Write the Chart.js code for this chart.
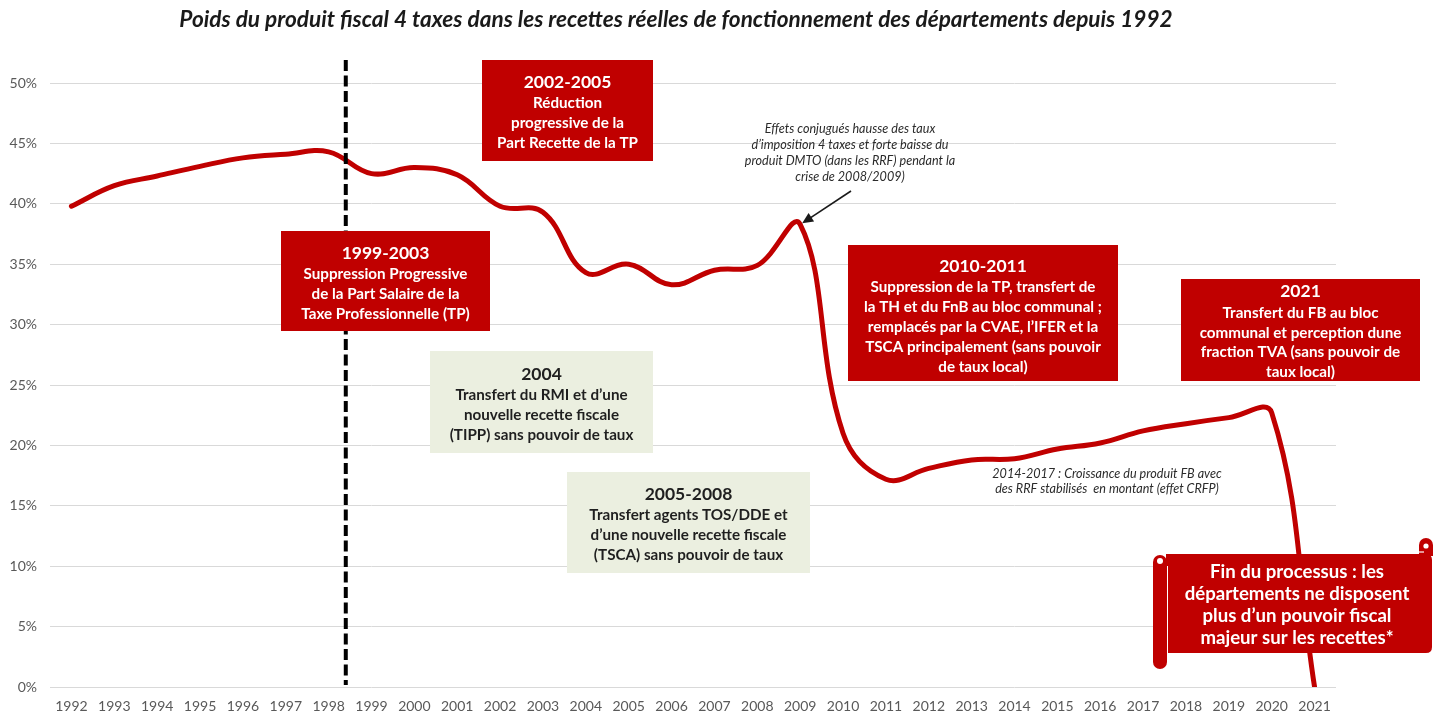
<!DOCTYPE html>
<html lang="fr">
<head>
<meta charset="utf-8">
<title>Poids du produit fiscal 4 taxes</title>
<script src="https://cdn.jsdelivr.net/npm/chart.js@4/dist/chart.umd.min.js"></script>
<style>
  html, body { margin: 0; padding: 0; background: #ffffff; }
  #wrap { position: relative; width: 1440px; height: 715px; }
</style>
</head>
<body>
<div id="wrap"><canvas id="chart" width="1440" height="715"></canvas></div>
<script>
// Années et poids du produit fiscal 4 taxes (% des recettes réelles de fonctionnement)
const years = ['1992','1993','1994','1995','1996','1997','1998','1999','2000','2001',
               '2002','2003','2004','2005','2006','2007','2008','2009','2010','2011',
               '2012','2013','2014','2015','2016','2017','2018','2019','2020','2021'];
const shareFiscal = [39.8, 41.5, 42.3, 43.1, 43.8, 44.1, 44.3, 42.5, 43.0, 42.4,
                     39.8, 39.3, 34.3, 35.0, 33.3, 34.5, 34.9, 38.3, 21.0, 17.2,
                     18.1, 18.8, 18.9, 19.7, 20.2, 21.2, 21.8, 22.3, 22.7, 0.0];
const yTicks = [0, 5, 10, 15, 20, 25, 30, 35, 40, 45, 50];

// Position de la séparation verticale (entre 1998 et 1999, en index de catégorie)
const dividerIndex = 6.4;

const chartTitle = 'Poids du produit fiscal 4 taxes dans les recettes réelles de fonctionnement des départements depuis 1992';

const RED = '#C00000';
const BEIGE = '#EBEFE0';
const FONT = 'Lato, "Open Sans", sans-serif';
const HEAD_SIZE = 17.5;
const BODY_SIZE = 15.2;

// Encadrés de commentaires
const boxes = [
  { x: 482, y: 60, w: 171, h: 101, fill: RED, color: '#ffffff',
    head: '2002-2005', lines: ['Réduction', 'progressive de la', 'Part Recette de la TP'],
    headY: 82, lineY: [103, 123, 143] },
  { x: 281, y: 231, w: 209, h: 100, fill: RED, color: '#ffffff',
    head: '1999-2003', lines: ['Suppression Progressive', 'de la Part Salaire de la', 'Taxe Professionnelle (TP)'],
    headY: 253, lineY: [274, 294, 314] },
  { x: 430, y: 351, w: 223, h: 102, fill: BEIGE, color: '#1f1f1f',
    head: '2004', lines: ['Transfert du RMI et d\u2019une', 'nouvelle recette fiscale', '(TIPP) sans pouvoir de taux'],
    headY: 374, lineY: [395, 415, 435] },
  { x: 567, y: 472, w: 243, h: 101, fill: BEIGE, color: '#1f1f1f',
    head: '2005-2008', lines: ['Transfert agents TOS/DDE et', 'd\u2019une nouvelle recette fiscale', '(TSCA) sans pouvoir de taux'],
    headY: 494, lineY: [515, 535, 555] },
  { x: 848, y: 245, w: 270, h: 136, fill: RED, color: '#ffffff',
    head: '2010-2011', lines: ['Suppression de la TP, transfert de', 'la TH et du FnB au bloc communal ;',
                             'remplacés par la CVAE, l\u2019IFER et la', 'TSCA principalement (sans pouvoir', 'de taux local)'],
    headY: 266, lineY: [287, 307, 327, 347, 367] },
  { x: 1181, y: 279, w: 239, h: 102, fill: RED, color: '#ffffff',
    head: '2021', lines: ['Transfert du FB au bloc', 'communal et perception dune', 'fraction TVA (sans pouvoir de', 'taux local)'],
    headY: 291, lineY: [313, 333, 352, 372] }
];

const notes = [
  { cx: 850, lines: ['Effets conjugués hausse des taux', 'd\u2019imposition 4 taxes et forte baisse du',
                     'produit DMTO (dans les RRF) pendant la', 'crise de 2008/2009)'],
    y: [129, 145, 161, 177] },
  { cx: 1107, lines: ['2014-2017 : Croissance du produit FB avec', 'des RRF stabilisés  en montant (effet CRFP)'],
    y: [474, 489] }
];

const scrollText = ['Fin du processus : les', 'départements ne disposent', 'plus d\u2019un pouvoir fiscal', 'majeur sur les recettes*'];

function drawBox(ctx, b) {
  ctx.save();
  ctx.fillStyle = b.fill;
  ctx.fillRect(b.x, b.y, b.w, b.h);
  const cx = b.x + b.w / 2;
  ctx.fillStyle = b.color;
  ctx.textAlign = 'center';
  ctx.textBaseline = 'middle';
  ctx.font = 'bold ' + HEAD_SIZE + 'px ' + FONT;
  ctx.fillText(b.head, cx, b.headY);
  ctx.font = 'bold ' + BODY_SIZE + 'px ' + FONT;
  b.lines.forEach((t, i) => ctx.fillText(t, cx, b.lineY[i]));
  ctx.restore();
}

function drawScroll(ctx) {
  ctx.save();
  ctx.fillStyle = RED;
  ctx.strokeStyle = '#ffffff';
  ctx.lineWidth = 1.2;
  // corps du parchemin
  ctx.beginPath();
  ctx.moveTo(1166, 554);
  ctx.lineTo(1426, 554);
  ctx.quadraticCurveTo(1432, 554, 1432, 560);
  ctx.lineTo(1432, 647);
  ctx.quadraticCurveTo(1432, 653, 1426, 653);
  ctx.lineTo(1166, 653);
  ctx.closePath();
  ctx.fill();
  // enroulement supérieur droit
  ctx.beginPath();
  ctx.moveTo(1419, 556);
  ctx.lineTo(1419, 545);
  ctx.arc(1426, 545, 7, Math.PI, 0);
  ctx.lineTo(1433, 556);
  ctx.closePath();
  ctx.fill();
  ctx.beginPath();
  ctx.arc(1426, 546, 2.6, 0, Math.PI * 2);
  ctx.fillStyle = '#ffffff';
  ctx.fill();
  ctx.strokeStyle = '#ffffff';
  ctx.beginPath();
  ctx.moveTo(1418, 552);
  ctx.lineTo(1424, 552);
  ctx.stroke();
  // rouleau gauche
  ctx.fillStyle = RED;
  ctx.beginPath();
  ctx.moveTo(1153, 562);
  ctx.arc(1160, 562, 7, Math.PI, 0);
  ctx.lineTo(1167, 662);
  ctx.arc(1160, 662, 7, 0, Math.PI);
  ctx.closePath();
  ctx.fill();
  ctx.beginPath();
  ctx.arc(1160, 561, 3, 0, Math.PI * 2);
  ctx.fillStyle = '#ffffff';
  ctx.fill();
  ctx.strokeStyle = '#ffffff';
  ctx.lineWidth = 1;
  ctx.beginPath();
  ctx.moveTo(1167.5, 566);
  ctx.lineTo(1167.5, 653);
  ctx.stroke();
  // texte
  ctx.fillStyle = '#ffffff';
  ctx.textAlign = 'center';
  ctx.textBaseline = 'middle';
  ctx.font = 'bold 18.6px ' + FONT;
  const ty = [572, 594, 616, 638];
  scrollText.forEach((t, i) => ctx.fillText(t, 1297, ty[i]));
  ctx.restore();
}

const annotationPlugin = {
  id: 'fiscalAnnotations',
  afterDatasetsDraw(chart) {
    const ctx = chart.ctx;
    const xs = chart.scales.x;
    const area = chart.chartArea;

    // séparation verticale en tirets
    const dx = xs.getPixelForValue(dividerIndex);
    ctx.save();
    ctx.strokeStyle = '#000000';
    ctx.lineWidth = 4;
    ctx.setLineDash([11, 4.5]);
    ctx.beginPath();
    ctx.moveTo(dx, 60);
    ctx.lineTo(dx, area.bottom - 2);
    ctx.stroke();
    ctx.restore();

    boxes.forEach(b => drawBox(ctx, b));

    // notes en italique
    ctx.save();
    ctx.fillStyle = '#2b2b2b';
    ctx.textAlign = 'center';
    ctx.textBaseline = 'middle';
    ctx.font = 'italic 12.6px ' + FONT;
    notes.forEach(n => n.lines.forEach((t, i) => ctx.fillText(t, n.cx, n.y[i])));
    ctx.restore();

    // flèche vers le pic de 2009
    const x2 = xs.getPixelForValue(17) + 2;
    const y2 = chart.scales.y.getPixelForValue(shareFiscal[17]) - 1;
    const x1 = 851, y1 = 191;
    const ang = Math.atan2(y2 - y1, x2 - x1);
    ctx.save();
    ctx.strokeStyle = '#1a1a1a';
    ctx.fillStyle = '#1a1a1a';
    ctx.lineWidth = 1.6;
    ctx.beginPath();
    ctx.moveTo(x1, y1);
    ctx.lineTo(x2 - 8 * Math.cos(ang), y2 - 8 * Math.sin(ang));
    ctx.stroke();
    ctx.beginPath();
    ctx.moveTo(x2, y2);
    ctx.lineTo(x2 - 11 * Math.cos(ang) + 5 * Math.sin(ang), y2 - 11 * Math.sin(ang) - 5 * Math.cos(ang));
    ctx.lineTo(x2 - 11 * Math.cos(ang) - 5 * Math.sin(ang), y2 - 11 * Math.sin(ang) + 5 * Math.cos(ang));
    ctx.closePath();
    ctx.fill();
    ctx.restore();

    drawScroll(ctx);
  },
  afterDraw(chart) {
    const ctx = chart.ctx;
    ctx.save();
    ctx.fillStyle = '#1a1a1a';
    ctx.textAlign = 'center';
    ctx.textBaseline = 'middle';
    ctx.font = 'italic bold 22.6px ' + FONT;
    ctx.fillText(chartTitle, 676, 20);
    ctx.restore();
  }
};

new Chart(document.getElementById('chart'), {
  type: 'line',
  data: {
    labels: years,
    datasets: [{
      data: shareFiscal,
      borderColor: RED,
      borderWidth: 5,
      tension: 0.4,
      pointRadius: 0,
      pointHoverRadius: 0,
      fill: false,
      borderCapStyle: 'round',
      borderJoinStyle: 'round'
    }]
  },
  options: {
    responsive: false,
    animation: false,
    events: [],
    layout: { padding: { top: 83, right: 104, bottom: 0, left: 0 } },
    plugins: {
      legend: { display: false },
      title: { display: false },
      tooltip: { enabled: false }
    },
    scales: {
      x: {
        type: 'category',
        offset: true,
        grid: { display: false, drawTicks: false },
        border: { display: false },
        ticks: {
          color: '#595959',
          font: { family: FONT, size: 14 },
          padding: 11,
          maxRotation: 0,
          autoSkip: false
        },
        afterFit(scale) { scale.height = 28; }
      },
      y: {
        min: 0,
        max: 50,
        afterBuildTicks(scale) { scale.ticks = yTicks.map(v => ({ value: v })); },
        grid: { color: '#D9D9D9', lineWidth: 1, drawTicks: false },
        border: { display: false },
        ticks: {
          color: '#595959',
          font: { family: FONT, size: 14 },
          padding: 13,
          callback: v => v + '%'
        },
        afterFit(scale) { scale.width = 50; }
      }
    }
  },
  plugins: [annotationPlugin]
});
</script>
</body>
</html>
